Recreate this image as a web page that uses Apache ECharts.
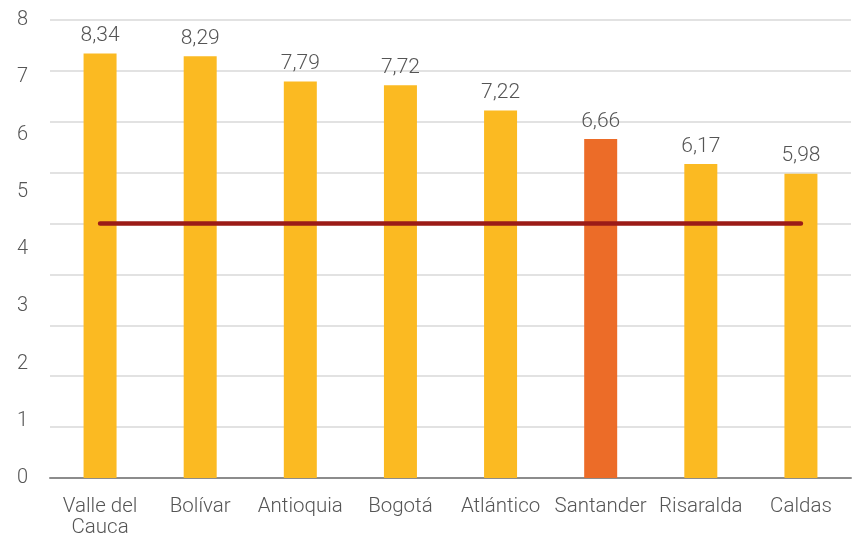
<!DOCTYPE html>
<html>
<head>
<meta charset="utf-8">
<script src="https://cdn.jsdelivr.net/npm/echarts@6/dist/echarts.min.js"></script>
<style>html,body{margin:0;padding:0;background:#fff}#c{width:853px;height:538px}</style>
</head>
<body>
<div id="c"></div>
<script>
const categories = ['Valle del\nCauca', 'Bolívar', 'Antioquia', 'Bogotá', 'Atlántico', 'Santander', 'Risaralda', 'Caldas'];
const values = [8.34, 8.29, 7.79, 7.72, 7.22, 6.66, 6.17, 5.98];
const highlight = [false, false, false, false, false, true, false, false];
const reference = [5, 5, 5, 5, 5, 5, 5, 5];
const tickLabels = ['0', '1', '2', '3', '4', '5', '6', '7', '8'];

const FONT = 'Roboto';
const chart = echarts.init(document.getElementById('c'));
chart.setOption({
  animation: false,
  grid: { left: 50, right: 2, top: 20, bottom: 58 },
  xAxis: {
    type: 'category',
    data: categories,
    axisTick: { show: false },
    axisLine: { lineStyle: { color: '#8c8c8c', width: 2 } },
    axisLabel: { color: '#555', fontSize: 20.5, fontFamily: FONT, fontWeight: 300, margin: 18, lineHeight: 21, interval: 0 }
  },
  yAxis: [
    {
      type: 'value', min: 0, max: 9, interval: 1,
      axisLabel: { show: false },
      axisLine: { show: false }, axisTick: { show: false },
      splitLine: { lineStyle: { color: '#d9d9d9', width: 1.5 } }
    },
    {
      type: 'value', min: 0, max: 8, interval: 1, position: 'left',
      axisLine: { show: false }, axisTick: { show: false },
      splitLine: { show: false },
      axisLabel: {
        color: '#555', fontSize: 20, fontFamily: FONT, fontWeight: 300, margin: 22,
        formatter: v => tickLabels[v]
      }
    }
  ],
  series: [
    {
      type: 'bar',
      yAxisIndex: 0,
      barWidth: 33,
      data: values.map((v, i) => ({ value: v, itemStyle: { color: highlight[i] ? '#EC6C28' : '#FBBA22' } })),
      label: {
        show: true, position: 'top', distance: 7,
        color: '#555', fontSize: 21, fontFamily: FONT, fontWeight: 300,
        formatter: p => String(p.value.toFixed(2)).replace('.', ',')
      },
      z: 2
    },
    {
      type: 'line',
      yAxisIndex: 0,
      data: reference,
      symbol: 'none',
      lineStyle: { color: '#9B1B17', width: 4.5, cap: 'round' },
      z: 3
    }
  ]
});
</script>
</body>
</html>
